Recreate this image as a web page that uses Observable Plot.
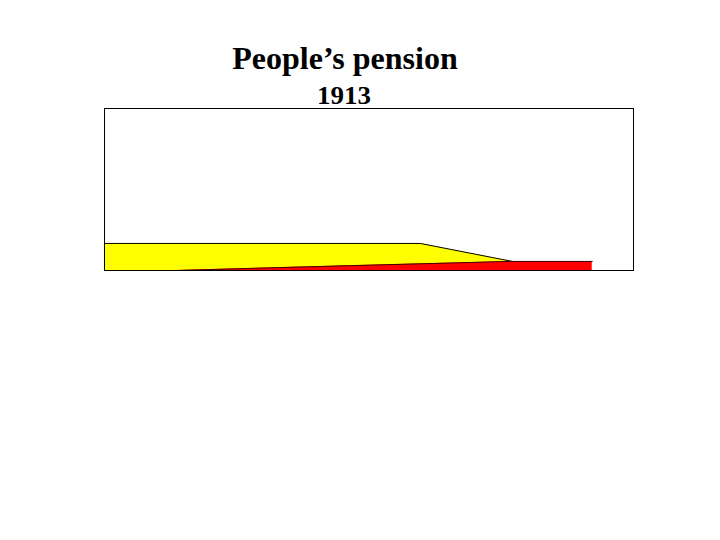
<!DOCTYPE html>
<html>
<head>
<meta charset="utf-8">
<script src="https://cdn.jsdelivr.net/npm/d3@7"></script>
<script src="https://cdn.jsdelivr.net/npm/@observablehq/plot@0.6"></script>
<style>
  html, body { margin: 0; padding: 0; background: #fff; }
  #wrap { position: relative; width: 720px; height: 540px; overflow: hidden; }
  .t { position: absolute; width: 600px; text-align: center; font-family: "Liberation Serif", "Times New Roman", serif; font-weight: bold; color: #000; white-space: nowrap; }
  #title { left: 45px; top: 42px; font-size: 32px; line-height: 32px; }
  #sub { left: 44px; top: 83px; font-size: 25px; line-height: 25px; }
  #sub span { display: inline-block; transform: scaleX(1.08); }
  #chart { position: absolute; left: 0; top: 0; }
</style>
</head>
<body>
<div id="wrap">
  <div id="chart"></div>
  <div class="t" id="title">People’s pension</div>
  <div class="t" id="sub"><span>1913</span></div>
</div>
<script>
// Income (share of range, 0–100) and pension amounts (share of plot height, 0–100)
const basicIncome = [0, 59.7, 77.1];
const basicPension = [16.7, 16.7, 5.6];
const contribIncome = [13.6, 46.5, 76.7, 92.2];
const contribPension = [0, 3.0, 5.6, 5.6];

const basic = basicIncome.map((x, i) => ({x, y: basicPension[i]}));
const contrib = contribIncome.map((x, i) => ({x, y: contribPension[i]}));

const plot = Plot.plot({
  width: 720,
  height: 540,
  marginLeft: 104,
  marginRight: 87,
  marginTop: 108,
  marginBottom: 270,
  x: {domain: [0, 100], axis: null},
  y: {domain: [0, 100], axis: null},
  marks: [
    Plot.areaY(basic, {x: "x", y: "y", fill: "#ffff00"}),
    Plot.lineY(basic, {x: "x", y: "y", stroke: "#000", strokeWidth: 1}),
    Plot.areaY(contrib, {x: "x", y: "y", fill: "#ff0000"}),
    Plot.lineY(contrib, {x: "x", y: "y", stroke: "#400000", strokeWidth: 1}),
    Plot.frame({stroke: "#000", strokeWidth: 1})
  ]
});
document.getElementById("chart").appendChild(plot);
</script>
</body>
</html>
